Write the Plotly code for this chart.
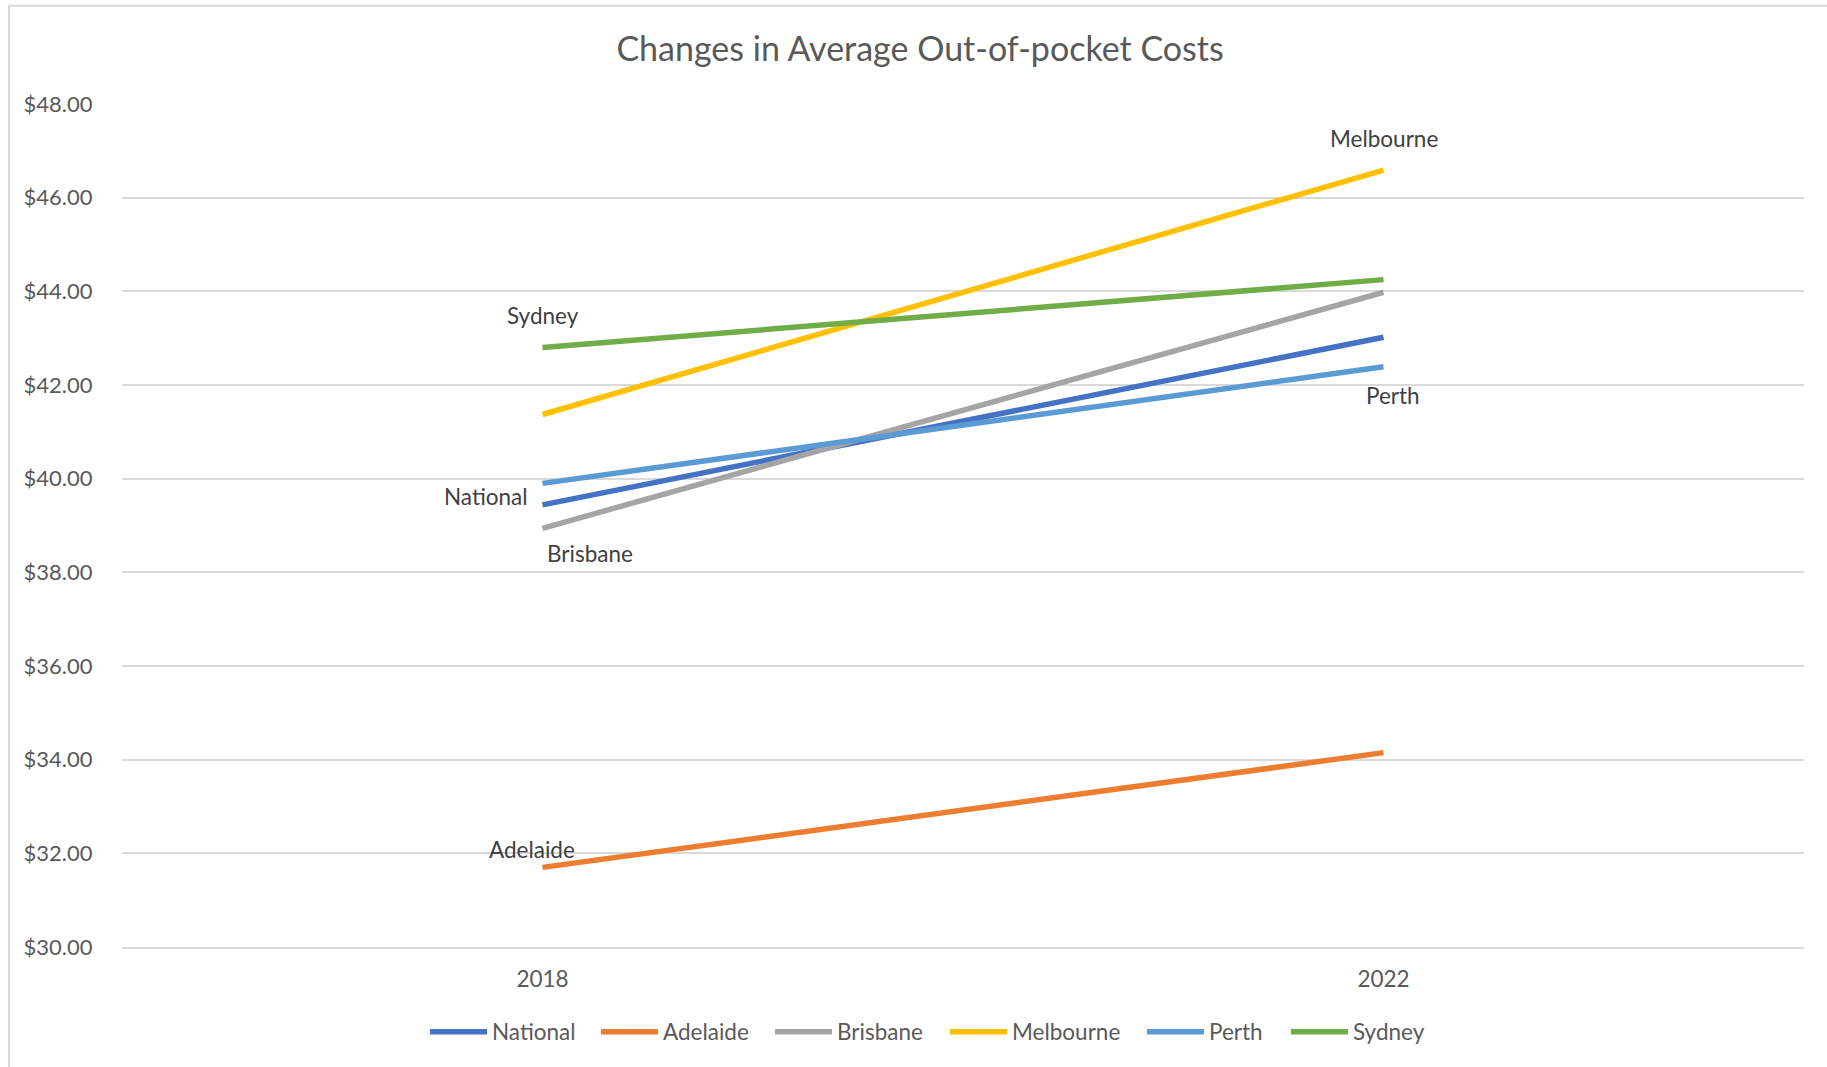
import plotly.graph_objects as go

years = ["2018", "2022"]
series_names = ["National", "Adelaide", "Brisbane", "Melbourne", "Perth", "Sydney"]
national = [39.44, 43.02]
adelaide = [31.70, 34.15]
brisbane = [38.94, 43.98]
melbourne = [41.37, 46.59]
perth = [39.90, 42.39]
sydney = [42.80, 44.25]
y_ticks = [30, 32, 34, 36, 38, 40, 42, 44, 46, 48]
y_tick_labels = ["$%.2f" % v for v in y_ticks]

values = [national, adelaide, brisbane, melbourne, perth, sydney]
colors = ["#4472C4", "#ED7D31", "#A5A5A5", "#FFC000", "#5B9BD5", "#70AD47"]

# label placement: (point index, xanchor, xshift, yshift)
label_pos = {
    "National": (0, "right", -13, 8),
    "Adelaide": (0, "center", -11, 18),
    "Brisbane": (0, "center", 47, -25),
    "Melbourne": (1, "center", 0, 32),
    "Perth": (1, "center", 9, -29),
    "Sydney": (0, "center", 0, 32),
}
# legend entry left edges (page px)
legend_left_px = [431, 602, 776, 951, 1148, 1292]

W, H = 1827, 1067
ML, MR, MT, MB = 122, 23, 104, 120
PW, PH = W - ML - MR, H - MT - MB

FONT = "Lato, 'Open Sans', sans-serif"
TXT = "#595959"

fig = go.Figure()
legend_layouts = {}
for k, (name, vals, col) in enumerate(zip(series_names, values, colors)):
    lg = "legend" if k == 0 else "legend%d" % (k + 1)
    fig.add_trace(go.Scatter(x=years, y=vals, mode="lines", name=name, legend=lg,
                             showlegend=True, line=dict(color=col, width=5.5)))
    legend_layouts[lg] = dict(orientation="h",
                              x=(legend_left_px[k] - 6 - ML) / PW, xanchor="left",
                              y=(MT + PH - 1032) / PH, yanchor="middle",
                              font=dict(family=FONT, size=22.5, color=TXT), itemwidth=57,
                              bgcolor="rgba(0,0,0,0)")

annotations = []
for name, vals in zip(series_names, values):
    i, xa, xs, ys = label_pos[name]
    annotations.append(dict(x=i, y=vals[i], xref="x", yref="y", text=name,
                            showarrow=False, xanchor=xa, yanchor="middle",
                            xshift=xs, yshift=ys,
                            font=dict(family=FONT, size=22.5, color="#404040")))

fig.update_layout(
    width=W, height=H,
    showlegend=True,
    margin=dict(l=ML, r=MR, t=MT, b=MB, autoexpand=False),
    paper_bgcolor="white", plot_bgcolor="white",
    title=dict(text="Changes in Average Out-of-pocket Costs", x=0.5036, xanchor="center",
               y=1 - 49 / H, yanchor="middle", yref="container",
               font=dict(family=FONT, size=34, color=TXT)),
    xaxis=dict(type="category", range=[-0.5, 1.5], showgrid=False,
               showline=True, linecolor="#D9D9D9", linewidth=2,
               ticks="outside", ticklen=11, tickcolor="rgba(0,0,0,0)",
               tickfont=dict(family=FONT, size=22.5, color=TXT), fixedrange=True),
    yaxis=dict(range=[30, 48], tickvals=y_ticks, ticktext=y_tick_labels,
               showgrid=True, gridcolor="#D9D9D9", gridwidth=2, zeroline=False,
               showline=False, ticks="outside", ticklen=24, tickcolor="rgba(0,0,0,0)",
               tickfont=dict(family=FONT, size=22, color=TXT)),
    annotations=annotations,
    shapes=[dict(type="rect", xref="paper", yref="paper",
                 x0=(9 - ML) / PW, x1=1.02, y0=-0.15, y1=(MT + PH - 5.7) / PH,
                 line=dict(color="#D9D9D9", width=2), fillcolor="rgba(0,0,0,0)",
                 layer="below")],
    **legend_layouts,
)

fig.write_html("out.html", config={"displayModeBar": False},
               post_script="document.body.style.margin='0';")
